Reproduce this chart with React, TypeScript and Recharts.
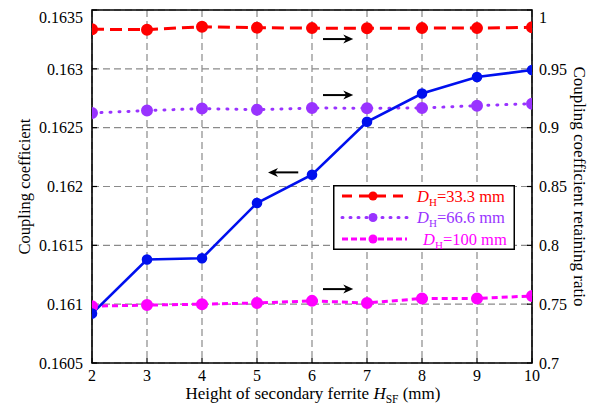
import React from 'react';
import {
  LineChart, Line, XAxis, YAxis, CartesianGrid, ReferenceLine, ReferenceArea, Label,
} from 'recharts';

const heights = [2, 3, 4, 5, 6, 7, 8, 9, 10];
const coupling = [0.16092, 0.16138, 0.16139, 0.16186, 0.1621, 0.16255, 0.16279, 0.16293, 0.16299];
const ratio33 = [0.9836, 0.9833, 0.9858, 0.985, 0.9846, 0.9845, 0.9846, 0.9846, 0.9853];
const ratio66 = [0.9125, 0.9145, 0.9162, 0.9153, 0.9167, 0.9165, 0.9167, 0.9187, 0.9204];
const ratio100 = [0.7483, 0.7492, 0.75, 0.751, 0.7528, 0.751, 0.7548, 0.7548, 0.757];

const xTicks = [2, 3, 4, 5, 6, 7, 8, 9, 10];
const leftTicks = [0.1605, 0.161, 0.1615, 0.162, 0.1625, 0.163, 0.1635];
const leftTickLabels = ['0.1605', '0.161', '0.1615', '0.162', '0.1625', '0.163', '0.1635'];
const rightTicks = [0.7, 0.75, 0.8, 0.85, 0.9, 0.95, 1];
const rightTickLabels = ['0.7', '0.75', '0.8', '0.85', '0.9', '0.95', '1'];

const seriesNames = ['33.3 mm', '66.6 mm', '100 mm'];
const seriesColors = ['#ff0000', '#9933ff', '#ff00ff'];
const seriesDash = ['12 6', '1 8', '6 4'];
const blueColor = '#0010ee';

const arrowsLeft = [{ from: 5.75, to: 5.2, y: 0.16212 }];
const arrowsRight = [
  { from: 6.2, to: 6.75, y: 0.9753 },
  { from: 6.2, to: 6.75, y: 0.9277 },
  { from: 6.2, to: 6.75, y: 0.7628 },
];

const data = heights.map((h, i) => ({
  h,
  k: coupling[i],
  r33: ratio33[i],
  r66: ratio66[i],
  r100: ratio100[i],
}));

const FONT = '"Liberation Serif", "Times New Roman", serif';

const ArrowShape = (props: any) => {
  const { x1, y1, x2, y2 } = props;
  const dx = x2 - x1;
  const dy = y2 - y1;
  const len = Math.sqrt(dx * dx + dy * dy) || 1;
  const ux = dx / len;
  const uy = dy / len;
  const hl = 10;
  const hw = 4.5;
  const bx = x2 - ux * hl;
  const by = y2 - uy * hl;
  const pts = `${x2},${y2} ${bx - uy * hw},${by + ux * hw} ${bx + ux * 3},${by + uy * 3} ${bx + uy * hw},${by - ux * hw}`;
  return (
    <g>
      <line x1={x1} y1={y1} x2={bx + ux * 3} y2={by + uy * 3} stroke="#000" strokeWidth={2} />
      <polygon points={pts} fill="#000" />
    </g>
  );
};

const LegendBox = () => (
  <svg width={182} height={65} style={{ display: 'block' }}>
    <rect x={0.75} y={0.75} width={180.5} height={63.5} fill="#fff" stroke="#000" strokeWidth={1.5} />
    {seriesNames.map((name, i) => {
      const cy = 11 + i * 21.5;
      return (
        <g key={name}>
          <line
            x1={9}
            x2={74}
            y1={cy}
            y2={cy}
            stroke={seriesColors[i]}
            strokeWidth={3}
            strokeDasharray={i === 1 ? '1 7' : i === 0 ? '10 7' : '6 3'}
            strokeLinecap={i === 1 ? 'round' : 'butt'}
          />
          <circle cx={40} cy={cy} r={4.5} fill={seriesColors[i]} />
          <text x={i === 2 ? 90 : 84} y={cy + 5.5} fill={seriesColors[i]} fontFamily={FONT} fontSize={16.5}>
            <tspan fontStyle="italic">D</tspan>
            <tspan fontSize={11} dy={4}>H</tspan>
            <tspan dy={-4}>={name}</tspan>
          </text>
        </g>
      );
    })}
  </svg>
);

const renderXLabel = (props: any) => {
  const vb = props.viewBox || {};
  const cx = vb.x + vb.width / 2 + 1;
  const y = vb.y + vb.height + 6;
  return (
    <text x={cx} y={y} textAnchor="middle" fontFamily={FONT} fontSize={17} fill="#000">
      <tspan>Height of secondary ferrite </tspan>
      <tspan fontStyle="italic">H</tspan>
      <tspan fontSize={11.5} dy={4}>SF</tspan>
      <tspan dy={-4}> (mm)</tspan>
    </text>
  );
};

const renderRightLabel = (props: any) => {
  const vb = props.viewBox || {};
  const x = vb.x + 47;
  const y = vb.y + vb.height / 2;
  return (
    <text
      x={x}
      y={y}
      transform={`rotate(90 ${x} ${y})`}
      textAnchor="middle"
      dominantBaseline="central"
      fontFamily={FONT}
      fontSize={17}
      fill="#000"
    >
      Coupling coefficient retaining ratio
    </text>
  );
};

export default function App() {
  const tickStyle = { fontFamily: FONT, fontSize: 16, fill: '#000' };
  return (
    <div style={{ width: 594, height: 403, position: 'relative' }}>
      <LineChart
        width={594}
        height={403}
        data={data}
        margin={{ top: 2, right: 10, bottom: 18, left: 24 }}
      >
        <CartesianGrid
          yAxisId="left"
          stroke="#8a8a8a"
          strokeDasharray="7 4"
          strokeWidth={1.2}
        />
        <XAxis
          dataKey="h"
          type="number"
          domain={[2, 10]}
          ticks={xTicks}
          allowDataOverflow
          axisLine={false}
          tickLine={{ stroke: '#000', strokeWidth: 1.2 }}
          tickSize={-5}
          tickMargin={12}
          height={30}
          tick={tickStyle}
          label={<Label content={renderXLabel} />}
        />
        <YAxis
          yAxisId="left"
          orientation="left"
          domain={[0.1605, 0.1635]}
          ticks={leftTicks}
          allowDataOverflow
          width={60}
          axisLine={false}
          tickLine={{ stroke: '#000', strokeWidth: 1.2 }}
          tickSize={-5}
          tickMargin={14}
          tick={tickStyle}
          tickFormatter={(v: number) => leftTickLabels[leftTicks.indexOf(v)] ?? String(v)}
          label={{
            value: 'Coupling coefficient',
            angle: -90,
            position: 'insideLeft',
            offset: -8,
            style: { fontFamily: FONT, fontSize: 16.5, fill: '#000', textAnchor: 'middle' },
          }}
        />
        <YAxis
          yAxisId="right"
          orientation="right"
          domain={[0.7, 1]}
          ticks={rightTicks}
          allowDataOverflow
          width={60}
          axisLine={false}
          tickLine={{ stroke: '#000', strokeWidth: 1.2 }}
          tickSize={-5}
          tickMargin={12}
          tick={tickStyle}
          tickFormatter={(v: number) => rightTickLabels[rightTicks.indexOf(v)] ?? String(v)}
          label={<Label content={renderRightLabel} />}
        />
        <ReferenceArea
          yAxisId="left"
          x1={2}
          x2={10}
          y1={0.1605}
          y2={0.1635}
          fill="none"
          stroke="#000"
          strokeWidth={1.6}
          ifOverflow="visible"
        />
        {arrowsLeft.map((a, i) => (
          <ReferenceLine
            key={`al${i}`}
            yAxisId="left"
            segment={[{ x: a.from, y: a.y }, { x: a.to, y: a.y }]}
            shape={ArrowShape}
          />
        ))}
        {arrowsRight.map((a, i) => (
          <ReferenceLine
            key={`ar${i}`}
            yAxisId="right"
            segment={[{ x: a.from, y: a.y }, { x: a.to, y: a.y }]}
            shape={ArrowShape}
          />
        ))}
        <Line
          yAxisId="right"
          dataKey="r33"
          stroke={seriesColors[0]}
          strokeWidth={3}
          strokeDasharray={seriesDash[0]}
          dot={{ r: 4.5, fill: seriesColors[0], stroke: seriesColors[0], strokeDasharray: '0' }}
          isAnimationActive={false}
        />
        <Line
          yAxisId="right"
          dataKey="r66"
          stroke={seriesColors[1]}
          strokeWidth={3}
          strokeDasharray={seriesDash[1]}
          strokeLinecap="round"
          dot={{ r: 4.5, fill: seriesColors[1], stroke: seriesColors[1], strokeDasharray: '0' }}
          isAnimationActive={false}
        />
        <Line
          yAxisId="right"
          dataKey="r100"
          stroke={seriesColors[2]}
          strokeWidth={3}
          strokeDasharray={seriesDash[2]}
          dot={{ r: 4.5, fill: seriesColors[2], stroke: seriesColors[2], strokeDasharray: '0' }}
          isAnimationActive={false}
        />
        <Line
          yAxisId="left"
          dataKey="k"
          stroke={blueColor}
          strokeWidth={2.6}
          dot={{ r: 4, fill: blueColor, stroke: blueColor }}
          isAnimationActive={false}
        />
      </LineChart>
      <div style={{ position: 'absolute', left: 325, top: 177, width: 182, height: 65 }}>
        <LegendBox />
      </div>
    </div>
  );
}
